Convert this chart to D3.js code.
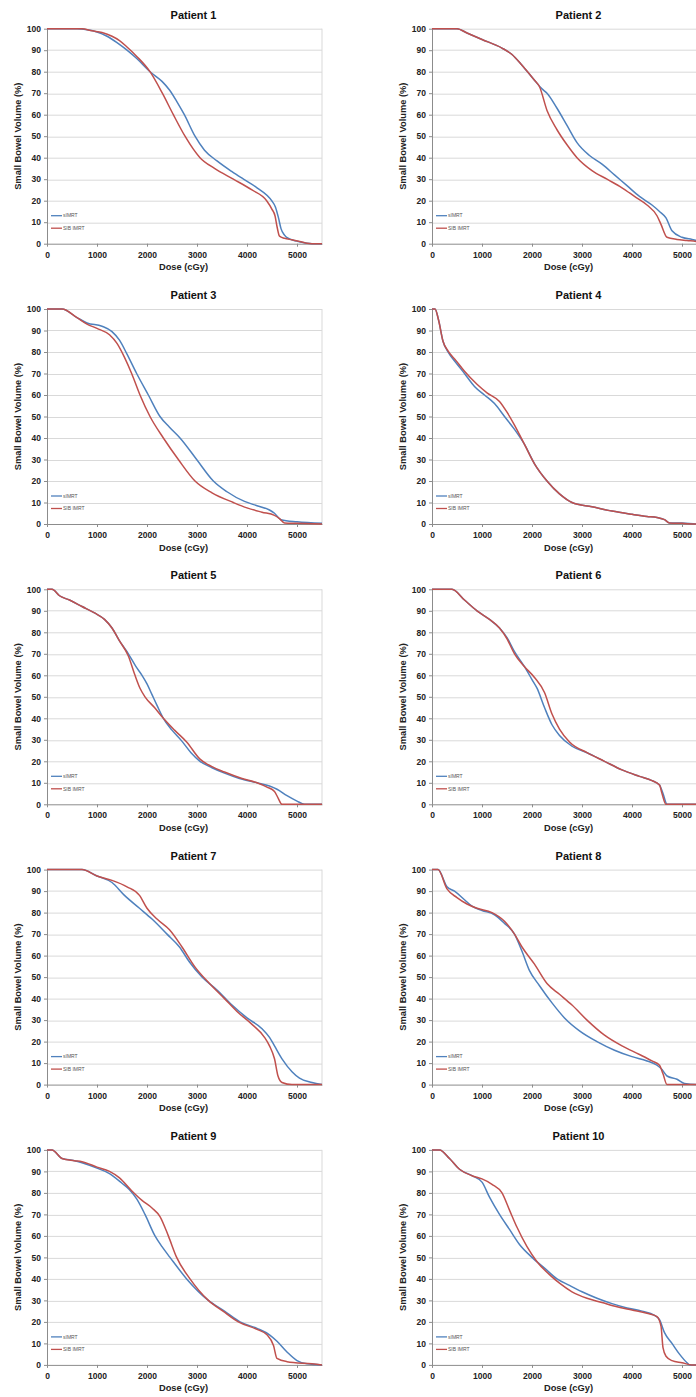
<!DOCTYPE html>
<html>
<head>
<meta charset="utf-8">
<title>Small bowel DVH</title>
<style>
  html, body { margin: 0; padding: 0; background: #fff; }
  svg { display: block; font-family: "Liberation Sans", Arial, sans-serif; }
  .grid line { stroke: #d9d9d9; stroke-width: 1; }
  .axis text { font-size: 8.5px; font-weight: bold; fill: #222; }
  .axis .domain, .axis line { stroke: #8c8c8c; }
  .title { font-size: 11px; font-weight: bold; fill: #111; }
  .label { font-size: 9.3px; font-weight: bold; fill: #222; }
  .legend text { font-size: 5px; fill: #555; }
</style>
<script src="https://cdn.jsdelivr.net/npm/d3@7"></script>
</head>
<body>
<div id="main"></div>
<script>
// DVH curves: [dose (cGy), volume (%)]
var p1Simrt = [[0,100],[600,100],[800,99.5],[1000,98.5],[1200,96.5],[1400,93.5],[1600,90],[1800,86],[2060,80],[2300,75.5],[2450,71.5],[2600,66],[2747,60],[2960,50],[3150,43.5],[3400,38.5],[3700,33.5],[3930,30],[4200,26],[4493,20],[4570,17],[4630,12],[4680,7],[4750,4],[4850,2.2],[5000,1.2],[5200,0.2],[5300,0],[5500,0]];
var p1Sib   = [[0,100],[700,100],[900,99],[1100,98.2],[1300,96.5],[1450,94.5],[1600,91.5],[1800,87],[2060,80],[2307,70],[2527,60],[2760,50],[3060,40],[3350,35],[3727,30],[4100,25],[4393,20],[4500,16],[4560,13],[4600,8],[4650,3.5],[4750,2.5],[4900,1.8],[5100,0.8],[5200,0.2],[5300,0],[5500,0]];

var p2Simrt = [[0,100],[500,100],[700,98],[1000,95],[1400,91],[1600,88],[1800,83],[2050,76],[2200,72],[2300,70],[2500,63],[2700,55],[2900,47],[3150,41],[3400,37],[3650,32],[3900,27],[4150,22],[4400,18],[4550,15],[4680,12],[4800,6],[5000,3],[5200,2],[5400,1],[5500,0.8]];
var p2Sib   = [[0,100],[500,100],[700,98],[1000,95],[1400,91],[1600,88],[1800,83],[2050,76],[2150,73],[2300,62],[2500,53],[2700,46],[2900,40],[3200,34],[3500,30],[3800,26],[4050,22],[4300,18],[4500,13],[4580,9],[4700,3],[4900,2],[5100,1.5],[5300,1],[5500,0.8]];

var p3Simrt = [[0,100],[300,100],[600,96],[800,93.5],[1100,92],[1300,89.5],[1450,85.5],[1600,79],[1793,70],[2027,60],[2260,50],[2450,45],[2660,40],[2993,30],[3327,20],[3600,15],[3950,10.5],[4200,8.5],[4450,6.5],[4550,5],[4680,2],[5000,1],[5500,0.3]];
var p3Sib   = [[0,100],[300,100],[600,96],[800,93],[1000,91],[1250,88],[1400,84],[1550,77.5],[1693,70],[1860,60],[2060,50],[2327,40],[2627,30],[2960,20],[3300,14.5],[3727,10],[4000,7.5],[4300,5.5],[4550,4],[4650,2.5],[4750,0.5],[5000,0.3],[5500,0]];

var p4Simrt = [[0,100],[60,100],[130,95],[220,85],[320,80],[480,75],[650,70],[850,64],[1050,60],[1250,56],[1450,50],[1650,44],[1850,37],[2050,28],[2300,20],[2550,14],[2800,10],[3200,8],[3600,6],[4000,4.5],[4300,3.5],[4500,3],[4650,2],[4750,0.5],[5000,0.5],[5300,0],[5500,0]];
var p4Sib   = [[0,100],[60,100],[130,95],[220,85],[320,80.5],[480,76],[650,71],[900,65],[1100,61],[1350,57],[1500,52],[1650,46],[1850,37],[2050,28],[2300,20],[2550,14],[2800,10],[3200,8],[3600,6],[4000,4.5],[4300,3.5],[4500,3],[4650,2],[4750,0.5],[5000,0.3],[5300,0],[5500,0]];

var p5Simrt = [[0,100],[100,100],[250,97],[450,95],[700,92],[950,89],[1150,86],[1300,82],[1450,76],[1627,70],[1780,64],[1900,60],[2000,56],[2100,51],[2200,46],[2327,40],[2500,34.5],[2693,29.5],[2880,24],[3060,20],[3300,17],[3550,14.5],[3850,12],[4200,10],[4450,8.5],[4600,7],[4800,4],[5000,1.5],[5150,0],[5500,0]];
var p5Sib   = [[0,100],[100,100],[250,97],[450,95],[700,92],[950,89],[1150,86],[1300,82],[1450,76],[1627,69],[1760,60],[1860,54],[1960,50],[2150,45],[2327,40],[2550,34.5],[2793,29],[3060,21],[3300,17.5],[3550,15],[3900,12],[4200,10],[4400,8],[4550,6],[4620,3],[4700,0],[5500,0]];

var p6Simrt = [[0,100],[400,100],[650,95],[900,90],[1150,86],[1350,82],[1500,77.5],[1650,71],[1850,64],[2000,58],[2100,54],[2250,45],[2400,37],[2550,32],[2800,27],[3100,24],[3450,20],[3800,16],[4150,13],[4400,11],[4550,9],[4620,5],[4700,0],[5500,0]];
var p6Sib   = [[0,100],[400,100],[650,95],[900,90],[1150,86],[1350,82],[1500,77],[1650,70],[1850,64],[2050,59],[2250,52],[2400,42],[2550,35],[2750,29],[3100,24],[3450,20],[3800,16],[4150,13],[4400,11],[4550,9],[4600,5],[4680,0],[5500,0]];

var p7Simrt = [[0,100],[700,100],[1000,97],[1300,94],[1550,88],[1850,82],[2100,77],[2400,70],[2650,64],[2850,57],[3100,50],[3400,44],[3700,37],[4000,31],[4300,26],[4450,22],[4550,18],[4700,12],[4900,6],[5050,3],[5300,1],[5500,0]];
var p7Sib   = [[0,100],[700,100],[1000,97],[1300,95],[1600,92],[1850,88],[2000,82],[2200,77],[2450,72],[2700,64],[2950,55],[3250,47],[3550,40],[3800,34],[4100,28],[4350,22],[4450,18],[4550,12],[4620,4],[4700,1],[4900,0],[5500,0]];

var p8Simrt = [[0,100],[120,100],[300,92],[450,90],[650,86],[800,83],[1000,81],[1250,79],[1450,75],[1650,70],[1800,62],[1950,53],[2150,46],[2400,38],[2650,31],[2950,25],[3300,20],[3650,16],[4000,13],[4300,11],[4500,9],[4600,7],[4700,4],[4900,2.5],[5050,0.5],[5300,0],[5500,0]];
var p8Sib   = [[0,100],[120,100],[300,91],[500,87],[700,84],[900,82],[1200,80],[1450,76],[1650,70],[1800,64],[2050,56],[2300,47],[2550,42],[2800,37],[3100,30],[3450,23],[3800,18],[4150,14],[4400,11],[4550,9],[4620,5],[4700,0],[5500,0]];

var p9Simrt = [[0,100],[100,100],[300,96],[550,95],[700,94],[1000,91.5],[1250,89],[1500,84.5],[1650,81.5],[1800,77],[1960,70],[2160,60],[2300,55],[2460,50],[2793,40],[3227,30],[3550,25],[3860,20],[4200,17],[4450,14],[4600,11],[4800,6],[5000,2],[5200,0.5],[5500,0]];
var p9Sib   = [[0,100],[100,100],[300,96],[550,95],[700,94.5],[1000,92],[1250,90],[1450,87],[1693,81],[1900,76.5],[2100,73],[2260,69],[2427,60],[2593,50],[2860,40],[3227,30],[3520,25],[3827,20],[4200,16.5],[4400,14],[4530,9],[4600,3],[4800,1.5],[5300,0.5],[5500,0]];

var p10Simrt = [[0,100],[150,100],[350,96],[550,91],[800,88],[1000,85],[1150,78],[1350,70],[1550,63],[1750,56],[2000,50],[2250,45],[2500,40],[2750,37],[3000,34],[3300,31],[3600,28.5],[3900,26.5],[4200,25],[4450,23],[4550,21],[4650,15],[4800,10],[4950,5],[5100,1],[5150,0],[5500,0]];
var p10Sib   = [[0,100],[150,100],[350,96],[550,91],[800,88],[1000,86.5],[1200,84],[1400,80],[1550,72],[1700,64],[1900,55],[2100,48],[2350,42],[2550,38],[2800,34],[3100,31],[3400,29],[3700,27],[4000,25.5],[4300,24],[4500,22.5],[4580,18],[4620,8],[4680,4],[4800,2],[5000,1],[5200,0],[5500,0]];

var panelTitles = ["Patient 1","Patient 2","Patient 3","Patient 4","Patient 5","Patient 6","Patient 7","Patient 8","Patient 9","Patient 10"];
var panelSeries = [[p1Simrt,p1Sib],[p2Simrt,p2Sib],[p3Simrt,p3Sib],[p4Simrt,p4Sib],[p5Simrt,p5Sib],
                   [p6Simrt,p6Sib],[p7Simrt,p7Sib],[p8Simrt,p8Sib],[p9Simrt,p9Sib],[p10Simrt,p10Sib]];
var seriesNames = ["sIMRT", "SIB IMRT"];
var seriesColors = ["#4f81bd", "#c0504d"];
var xTicks = [0, 1000, 2000, 3000, 4000, 5000];
var yTicks = [0, 10, 20, 30, 40, 50, 60, 70, 80, 90, 100];

var width = 696, height = 1397;
var colLeft = [47, 432];
var topY = 28.7, rowPitch = 280.3;
var plotW = 275, plotH = 215;

var svg = d3.select("#main").append("svg")
    .attr("width", width)
    .attr("height", height);

var x = d3.scaleLinear().domain([0, 5500]).range([0, plotW]);
var y = d3.scaleLinear().domain([0, 100]).range([plotH, 0]);

var line = d3.line()
    .x(function(d) { return x(d[0]); })
    .y(function(d) { return y(d[1]); })
    .curve(d3.curveMonotoneX);

panelTitles.forEach(function(title, i) {
    var col = i % 2, row = Math.floor(i / 2);
    var g = svg.append("g")
        .attr("transform", "translate(" + colLeft[col] + "," + (topY + row * rowPitch) + ")");

    // horizontal gridlines
    g.append("g").attr("class", "grid")
      .selectAll("line")
      .data(yTicks.slice(1))
      .enter().append("line")
        .attr("x1", 0).attr("x2", plotW)
        .attr("y1", function(d) { return Math.round(y(d)) + 0.5; })
        .attr("y2", function(d) { return Math.round(y(d)) + 0.5; });

    // right frame
    g.append("line")
        .attr("x1", plotW).attr("x2", plotW)
        .attr("y1", 0).attr("y2", plotH)
        .attr("stroke", "#d9d9d9");

    g.append("g").attr("class", "axis")
        .call(d3.axisLeft(y).tickValues(yTicks).tickSize(3).tickSizeOuter(0).tickPadding(3));

    g.append("g").attr("class", "axis")
        .attr("transform", "translate(0," + plotH + ")")
        .call(d3.axisBottom(x).tickValues(xTicks).tickFormat(d3.format("d"))
              .tickSize(3).tickSizeOuter(0).tickPadding(5));

    panelSeries[i].forEach(function(s, k) {
        g.append("path")
            .datum(s)
            .attr("fill", "none")
            .attr("stroke", seriesColors[k])
            .attr("stroke-width", 1.5)
            .attr("d", line);
    });

    var lg = g.append("g").attr("class", "legend");
    seriesNames.forEach(function(name, k) {
        var ly = plotH - 28 + k * 12.5;
        lg.append("line")
            .attr("x1", 4).attr("x2", 15)
            .attr("y1", ly).attr("y2", ly)
            .attr("stroke", seriesColors[k])
            .attr("stroke-width", 1.3);
        lg.append("text")
            .attr("x", 16).attr("y", ly + 1.8)
            .text(name);
    });

    g.append("text")
        .attr("class", "title")
        .attr("x", plotW / 2 + 9)
        .attr("y", -10)
        .attr("text-anchor", "middle")
        .text(title);

    g.append("text")
        .attr("class", "label")
        .attr("x", plotW / 2 - 1)
        .attr("y", plotH + 26.5)
        .attr("text-anchor", "middle")
        .text("Dose (cGy)");

    g.append("text")
        .attr("class", "label")
        .attr("transform", "translate(-26.5," + (plotH / 2) + ") rotate(-90)")
        .attr("text-anchor", "middle")
        .text("Small Bowel Volume (%)");
});
</script>
</body>
</html>
